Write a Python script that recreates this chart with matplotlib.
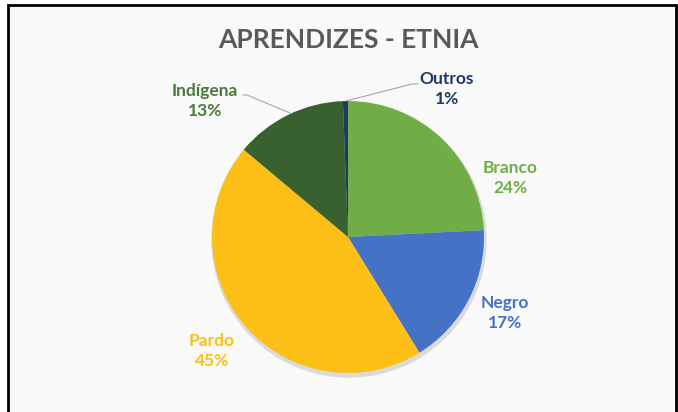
import matplotlib.pyplot as plt
from matplotlib.patches import Rectangle

categories = ['Branco', 'Negro', 'Pardo', 'Indígena', 'Outros']
values = [24.2, 17.0, 44.9, 13.3, 0.6]
colors = ['#70AD47', '#4472C4', '#FBBF15', '#37622F', '#203864']
label_colors = ['#70AD47', '#4472C4', '#FBBF15', '#4A7A38', '#203864']

W, H = 678, 412
fig = plt.figure(figsize=(W / 100, H / 100), dpi=100, facecolor='white')
ax = fig.add_axes([0, 0, 1, 1])

# frame of the chart area
ax.add_patch(Rectangle((8, -10), 668, H - 5 + 10, facecolor='#F9F9F9',
                       edgecolor='black', lw=2, zorder=0))

cx, cy, r = 348, H - 237, 136
wedges, _ = ax.pie(values, colors=colors, startangle=90, counterclock=False,
                   center=(cx, cy), radius=r, frame=True,
                   wedgeprops=dict(edgecolor='none'))
for w in wedges:
    w.set_zorder(3)
ax.set_xlim(0, W)
ax.set_ylim(0, H)
ax.set_aspect('equal')
ax.axis('off')

# soft shadow
ax.add_patch(plt.Circle((cx + 1, cy - 3), r + 1, color='#DADADA', zorder=2))

ax.text(W / 2 + 9, H - 40, 'APRENDIZES - ETNIA', ha='center', va='center',
        fontsize=19, fontweight='bold', color='#595959', family='Lato')

pos = {'Branco': (510, 178), 'Negro': (505, 313), 'Pardo': (212, 351),
       'Indígena': (205, 101), 'Outros': (447, 89)}
for cat, v, c in zip(categories, values, label_colors):
    x, y = pos[cat]
    ax.text(x, H - y, f'{cat}\n{v:.0f}%', ha='center', va='center', fontsize=12.5,
            fontweight='bold', color=c, family='Lato', linespacing=1.3, zorder=5)

# leader lines
ax.plot([346, 412, 418], [H - 101, H - 84, H - 84], color='#A6A6A6', lw=0.8, zorder=4)
ax.plot([290, 247, 243], [H - 113, H - 95, H - 95], color='#A6A6A6', lw=0.8, zorder=4)

fig.savefig('out.png', dpi=100, facecolor='white')
